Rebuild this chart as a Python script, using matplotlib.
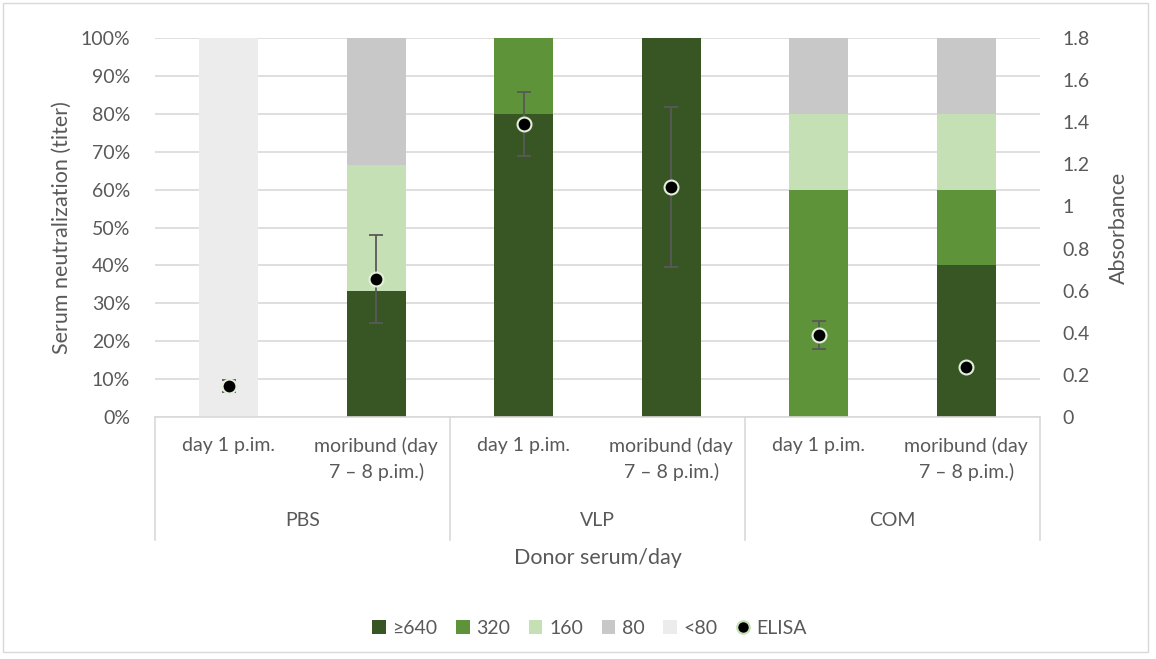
import numpy as np
import matplotlib.pyplot as plt
from matplotlib.lines import Line2D
from matplotlib.patches import Rectangle

plt.rcParams['font.family'] = ['Lato', 'DejaVu Sans']

groups = ["PBS", "VLP", "COM"]
days = ["day 1 p.im.", "moribund (day\n7 – 8 p.im.)"] * 3
titers = ["≥640", "320", "160", "80", "<80"]
colors = ["#375623", "#5e9339", "#c5e0b4", "#c8c8c8", "#ececec"]
# percent of sera per titer, one list per titer, one value per bar
pct = {
    "≥640": [0, 33.3, 80, 100, 0, 40],
    "320":  [0, 0, 20, 0, 60, 20],
    "160":  [0, 33.3, 0, 0, 20, 20],
    "80":   [0, 33.4, 0, 0, 20, 20],
    "<80":  [100, 0, 0, 0, 0, 0],
}
elisa = [0.147, 0.655, 1.392, 1.092, 0.389, 0.237]
elisa_err = [0.03, 0.21, 0.152, 0.38, 0.067, 0.0]

grey = "#595959"
fig = plt.figure(figsize=(11.56, 6.59), dpi=100)
ax = fig.add_axes([0.1341, 0.3672, 0.8997 - 0.1341, 0.9423 - 0.3672])
x = np.arange(len(days))
bottom = np.zeros(len(days))
for t, c in zip(titers, colors):
    v = np.array(pct[t])
    ax.bar(x, v, 0.4, bottom=bottom, color=c, label=t, zorder=2)
    bottom += v

ax.set_xlim(-0.5, 5.5)
ax.set_ylim(0, 100)
ax.set_yticks(np.arange(0, 101, 10))
ax.set_yticklabels([f"{v}%" for v in range(0, 101, 10)])
ax.grid(axis="y", color="#d9d9d9", linewidth=1.2, zorder=0)
ax.set_xticks([])
for s in ax.spines.values():
    s.set_visible(False)
ax.tick_params(axis="y", length=0, labelsize=14, labelcolor=grey, pad=18)
ax.set_ylabel("Serum neutralization (titer)", fontsize=15.5, color=grey, labelpad=6)

ax2 = ax.twinx()
ax2.set_ylim(0, 1.8)
ax2.set_yticks(np.arange(0, 1.81, 0.2))
ax2.set_yticklabels(["0", "0.2", "0.4", "0.6", "0.8", "1", "1.2", "1.4", "1.6", "1.8"])
ax2.errorbar(x, elisa, yerr=elisa_err, fmt="none", ecolor=grey, elinewidth=1.3,
             capsize=5, capthick=1.3, zorder=3)
ax2.plot(x, elisa, "o", color="black", markeredgecolor="#e2efda", markeredgewidth=1.5,
         markersize=10, zorder=4, label="ELISA")
for s in ax2.spines.values():
    s.set_visible(False)
ax2.tick_params(axis="y", length=0, labelsize=14, labelcolor=grey, pad=16)
ax2.set_ylabel("Absorbance", fontsize=15.5, color=grey, labelpad=14)

# category axis with two levels
tr = ax.get_xaxis_transform()
line_kw = dict(color="#d9d9d9", linewidth=1.2, transform=tr, clip_on=False)
ax.plot([-0.5, 5.5], [0, 0], **line_kw)
for b in [-0.5, 1.5, 3.5, 5.5]:
    ax.plot([b, b], [0, -0.325], **line_kw)
for i, d in enumerate(days):
    ax.text(i, -0.052, d, transform=tr, ha="center", va="top", fontsize=14,
            color=grey, linespacing=1.55)
for g, gname in enumerate(groups):
    ax.text(2 * g + 0.5, -0.272, gname, transform=tr, ha="center", va="center",
            fontsize=14, color=grey)
ax.text(0.5, -0.373, "Donor serum/day", transform=ax.transAxes, ha="center",
        va="center", fontsize=15.5, color=grey)

handles, labels = ax.get_legend_handles_labels()
handles.append(Line2D([], [], marker="o", linestyle="none", color="black",
                      markeredgecolor="#c5e0b4", markeredgewidth=1.5, markersize=9))
labels.append("ELISA")
leg = fig.legend(handles, labels, loc="center", bbox_to_anchor=(0.51, 0.047),
                 ncol=6, frameon=False, fontsize=14, handlelength=0.7,
                 handleheight=0.7, handletextpad=0.35, columnspacing=0.95)
for t in leg.get_texts():
    t.set_color(grey)

fig.patches.append(Rectangle((0.003, 0.011), 0.99, 0.985, transform=fig.transFigure,
                             fill=False, edgecolor="#d9d9d9", linewidth=1))

fig.savefig("out.png", dpi=100)
